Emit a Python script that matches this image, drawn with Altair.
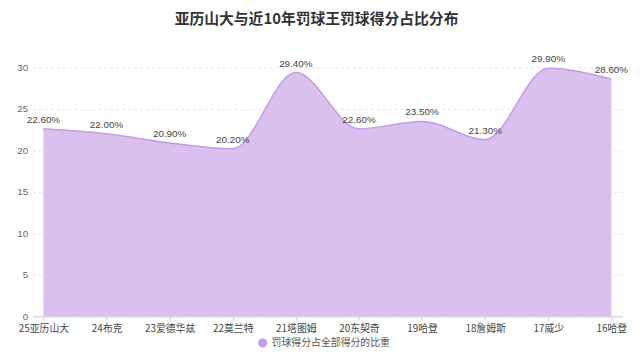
import altair as alt
import pandas as pd

players = ["25亚历山大", "24布克", "23爱德华兹", "22莫兰特", "21塔图姆",
           "20东契奇", "19哈登", "18詹姆斯", "17威少", "16哈登"]
values = [22.6, 22.0, 20.9, 20.2, 29.4, 22.6, 23.5, 21.3, 29.9, 28.6]
series_name = "罚球得分占全部得分的比重"
title_text = "亚历山大与近10年罚球王罚球得分占比分布"
y_ticks = [0, 5, 10, 15, 20, 25, 30]

df = pd.DataFrame({"player": players, "value": values})
df["series"] = series_name
df["label"] = [f"{v:.2f}%" for v in values]

fill_c = "#d9c0ee"
line_c = "#c39be6"

x = alt.X("player:N", sort=players,
          scale=alt.Scale(type="point", padding=0.17),
          axis=alt.Axis(title=None, labelAngle=0, labelColor="#444", labelFontSize=10,
                        labelFont="Noto Sans CJK SC", domainColor="#ccc", tickColor="#ccc",
                        tickSize=4, labelPadding=3, grid=False))
y = alt.Y("value:Q", scale=alt.Scale(domain=[0, 30], nice=False),
          axis=alt.Axis(title=None, values=y_ticks, labelColor="#666", labelFontSize=10,
                        domain=False, ticks=False, labelPadding=5, gridColor="#e6e6e6",
                        gridDash=[3, 3]))

area = alt.Chart(df).mark_area(interpolate="monotone", fill=fill_c, opacity=1,
                              line={"color": line_c, "strokeWidth": 1.5}).encode(
    x=x, y=y,
    color=alt.Color("series:N", scale=alt.Scale(domain=[series_name], range=[line_c]),
                    legend=alt.Legend(title=None, orient="none", legendX=228, legendY=274,
                                      symbolType="circle", symbolSize=60,
                                      labelFontSize=10, labelColor="#555",
                                      labelFont="Noto Sans CJK SC"))
)

labels = alt.Chart(df).mark_text(dy=-9, fontSize=10, color="#444",
                                 font="Liberation Sans").encode(
    x=alt.X("player:N", sort=players), y="value:Q", text="label:N")

chart = (area + labels).properties(
    width=597, height=252,
    autosize=alt.AutoSizeParams(type="none"),
    padding={"left": 25, "top": 58, "right": 10, "bottom": 40},
    title=alt.TitleParams(title_text,
                          fontSize=15, fontWeight="bold", color="#333",
                          font="Noto Sans CJK SC", offset=28, dx=-11, anchor="middle"),
).configure_view(stroke=None)

chart.save("out.html", embed_options={"renderer": "svg", "actions": False})
